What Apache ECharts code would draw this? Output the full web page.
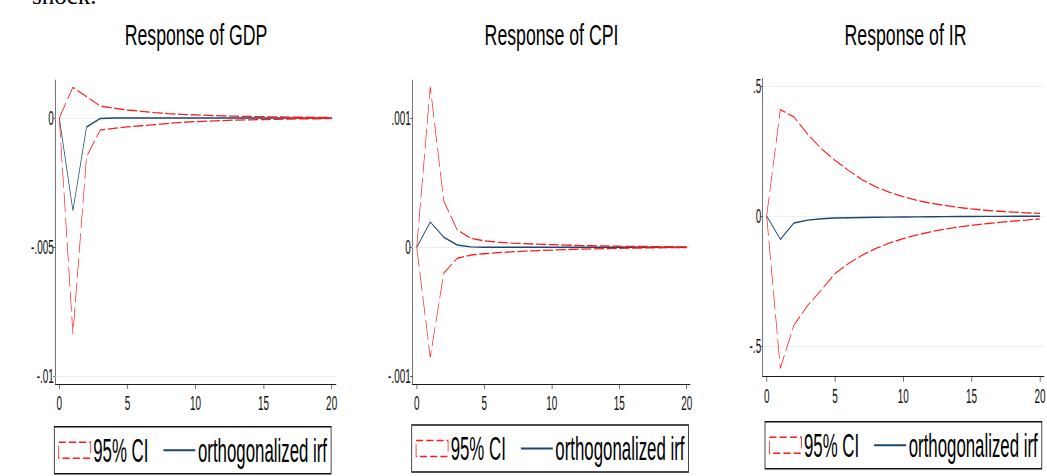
<!DOCTYPE html>
<html>
<head>
<meta charset="utf-8">
<script src="https://cdn.jsdelivr.net/npm/echarts@6/dist/echarts.min.js"></script>
<style>
html,body{margin:0;padding:0;background:#fff;}
#wrap{position:absolute;left:0;top:0;width:1047px;height:476px;overflow:hidden;background:#fff;}
#c{position:absolute;left:0;top:0;height:476px;transform-origin:0 0;}
</style>
</head>
<body>
<div id="wrap"><div id="c"></div></div>
<script>
// ---- data (steps 0..20) ----
const steps = [0,1,2,3,4,5,6,7,8,9,10,11,12,13,14,15,16,17,18,19,20];
const xTicks = [0,5,10,15,20];

const gdpTicks = [-0.01,-0.005,0];
const gdpIrf   = [0,-0.00359,-0.00035,-0.00002,0,0,0,0,0,0,0,0,0,0,0,0,0,0,0,0,0];
const gdpUpper = [0,0.00119,0.00083,0.000465,0.00038,0.00031,0.00026,0.00021,0.00017,0.00014,0.00012,0.0001,0.00008,0.00007,0.00006,0.00005,0.00004,0.00003,0.00003,0.00002,0.00002];
const gdpLower = [0,-0.00838,-0.0015,-0.00047,-0.0004,-0.00034,-0.0003,-0.00026,-0.00021,-0.00017,-0.00014,-0.00012,-0.0001,-0.00008,-0.00007,-0.00006,-0.00005,-0.00004,-0.00003,-0.00003,-0.00002];

const cpiTicks = [-0.001,0,0.001];
const cpiIrf   = [0,0.000196,0.000078,0.000018,0.000003,0,0,0,0,0,0,0,0,0,0,0,0,0,0,0,0];
const cpiUpper = [0,0.001245,0.000359,0.000134,0.00007,0.00005,0.00004,0.000033,0.000028,0.000024,0.00002,0.000017,0.000014,0.000012,0.00001,0.000008,0.000007,0.000006,0.000005,0.000004,0.000003];
const cpiLower = [0,-0.000853,-0.0002,-0.000085,-0.00006,-0.00005,-0.000042,-0.000036,-0.00003,-0.000026,-0.000022,-0.000018,-0.000015,-0.000012,-0.00001,-0.000008,-0.000007,-0.000005,-0.000004,-0.000003,-0.000002];

const irTicks = [-0.5,0,0.5];
const irIrf   = [0,-0.09,-0.027,-0.016,-0.011,-0.008,-0.007,-0.006,-0.005,-0.0045,-0.004,-0.0035,-0.003,-0.0025,-0.002,-0.002,-0.0015,-0.0015,-0.001,-0.001,-0.001];
const irUpper = [0,0.409,0.381,0.315,0.259,0.214,0.175,0.139,0.112,0.091,0.074,0.06,0.049,0.041,0.033,0.027,0.022,0.018,0.015,0.012,0.01];
const irLower = [0,-0.587,-0.42,-0.345,-0.285,-0.222,-0.183,-0.151,-0.125,-0.104,-0.087,-0.073,-0.061,-0.051,-0.043,-0.036,-0.03,-0.025,-0.02,-0.016,-0.011];

const titles = ['Response of GDP','Response of CPI','Response of IR'];
const ciName = '95% CI';
const irfName = 'orthogonalized irf';

// ---- layout (horizontal squeeze like the reference image) ----
const S = 0.51;
const W = 1047 / S;
const px = x => x / S;
const el = document.getElementById('c');
el.style.width = W + 'px';
el.style.transform = 'scaleX(' + S + ')';

const FONT = 'Liberation Sans, Arial, Helvetica, sans-serif';
const RED = '#ff1a1a';
const NAVY = '#1a476f';
const AX = '#1e1e1e';

const panels = [
  {ticks: gdpTicks, irf: gdpIrf, up: gdpUpper, lo: gdpLower,
   grid: {l: 55.3, t: 80, r: 336, b: 384}, x: [-0.294, 20.32], y: [-0.01031, 0.001473],
   title: 196, leg: {l: 54.3, t: 426.7}},
  {ticks: cpiTicks, irf: cpiIrf, up: cpiUpper, lo: cpiLower,
   grid: {l: 412.3, t: 80, r: 690, b: 384}, x: [-0.33, 20.24], y: [-0.00106, 0.001297],
   title: 551.5, leg: {l: 411.7, t: 425}},
  {ticks: irTicks, irf: irIrf, up: irUpper, lo: irLower,
   grid: {l: 762.7, t: 78.3, r: 1047.5, b: 376.7}, x: [-0.29, 20.3], y: [-0.619, 0.53],
   title: 905.5, leg: {l: 765, t: 421.7}}
];

const fmt = v => v === 0 ? '0' : String(v).replace('0.', '.');
const pairs = arr => steps.map((s, i) => [s, arr[i]]);

const option = {
  animation: false,
  backgroundColor: '#fff',
  grid: panels.map(p => ({
    left: px(p.grid.l), top: p.grid.t, width: px(p.grid.r - p.grid.l), height: p.grid.b - p.grid.t,
    containLabel: false
  })),
  xAxis: panels.map((p, i) => ({
    type: 'value', gridIndex: i, min: p.x[0], max: p.x[1],
    axisLine: {show: true, onZero: false, lineStyle: {color: AX, width: 1.2}},
    axisTick: {show: true, customValues: xTicks, length: 5, lineStyle: {color: AX, width: 1.2}},
    axisLabel: {customValues: xTicks, fontFamily: FONT, fontSize: 19.5, color: '#111', margin: 9},
    splitLine: {show: false}
  })),
  yAxis: panels.map((p, i) => ({
    type: 'value', gridIndex: i, min: p.y[0], max: p.y[1],
    axisLine: {show: true, onZero: false, lineStyle: {color: AX, width: 1.2}},
    axisTick: {show: true, customValues: p.ticks, length: 4, lineStyle: {color: AX, width: 1}},
    axisLabel: {customValues: p.ticks, formatter: fmt, fontFamily: FONT, fontSize: 19.5, color: '#111', margin: 3},
    splitLine: {show: false}
  })),
  legend: panels.map(p => ({
    left: px(p.leg.l), top: p.leg.t, orient: 'horizontal',
    padding: [7, px(4), 7, px(4)], itemGap: px(15), itemWidth: px(32), itemHeight: 16,
    borderColor: '#111', borderWidth: 1.5, backgroundColor: '#fff',
    selectedMode: false,
    textStyle: {fontFamily: FONT, fontSize: 33, color: '#000'},
    data: [
      {name: ciName, icon: 'rect',
       itemStyle: {color: 'rgba(255,255,255,0)', borderColor: RED, borderWidth: 1.5, borderType: [14, 6]}},
      {name: irfName, icon: 'path://M0,0H100V3H0Z', itemStyle: {color: NAVY, borderWidth: 0}}
    ]
  })),
  graphic: [
    {type: 'text', x: px(32), y: -4, scaleX: 1 / S,
     style: {text: 'shock.', font: '25px "Liberation Serif", "Times New Roman", serif', fill: '#000',
             textAlign: 'left', textVerticalAlign: 'middle'}}
  ].concat(panels.map((p, i) => ({
    type: 'text', x: px(p.title), y: 34.5, scaleX: 0.59 / S,
    style: {text: titles[i], font: '30px ' + FONT, fill: '#000',
            textAlign: 'center', textVerticalAlign: 'middle'}
  }))),
  series: []
};

panels.forEach((p, i) => {
  option.series.push({
    type: 'line', name: irfName, xAxisIndex: i, yAxisIndex: i, data: pairs(p.irf),
    symbol: 'none', showSymbol: false, z: 2,
    lineStyle: {color: NAVY, width: 1.4}, itemStyle: {color: NAVY},
    markLine: {
      silent: true, symbol: 'none', z: 1, animation: false,
      label: {show: false},
      lineStyle: {color: '#e3eef0', width: 1, type: 'solid'},
      data: p.ticks.map(v => ({yAxis: v}))
    }
  });
  [p.up, p.lo].forEach(arr => {
    option.series.push({
      type: 'line', name: ciName, xAxisIndex: i, yAxisIndex: i, data: pairs(arr),
      symbol: 'none', showSymbol: false, z: 3,
      lineStyle: {color: RED, width: 1.3, type: [20, 5]}, itemStyle: {color: RED}
    });
  });
});

const chart = echarts.init(el, null, {renderer: 'svg', width: W, height: 476});
chart.setOption(option);
</script>
</body>
</html>
